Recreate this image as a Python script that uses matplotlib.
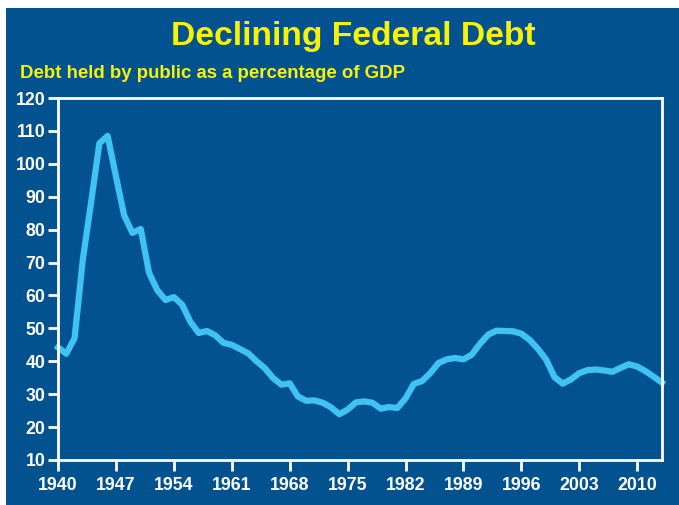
import numpy as np
import matplotlib.pyplot as plt
from matplotlib.patches import Rectangle

# Deuda en manos del público (% del PIB)
years = np.arange(1940, 2014)
debt = [44.2, 42.3, 47.0, 70.9, 88.3, 106.2, 108.5, 96.2, 84.3, 79.0,
        80.2, 66.9, 61.6, 58.6, 59.5, 57.2, 52.0, 48.6, 49.2, 47.9,
        45.6, 45.0, 43.7, 42.4, 40.0, 37.9, 34.9, 32.9, 33.3, 29.3,
        28.0, 28.1, 27.4, 26.0, 23.9, 25.3, 27.5, 27.8, 27.4, 25.6,
        26.1, 25.8, 28.7, 33.1, 34.0, 36.4, 39.5, 40.6, 41.0, 40.6,
        42.0, 45.3, 48.1, 49.3, 49.2, 49.1, 48.4, 46.5, 43.8, 40.5,
        35.2, 33.2, 34.5, 36.4, 37.3, 37.5, 37.2, 36.8, 38.0, 39.1,
        38.4, 37.0, 35.3, 33.5]
xticks = list(range(1940, 2011, 7))
yticks = list(range(10, 121, 10))

title = "Declining Federal Debt"
subtitle = "Debt held by public as a percentage of GDP"

bg = "#02528f"
yellow = "#f7f20a"
linecol = "#3fc3f0"

plt.rcParams['font.family'] = ['Liberation Sans', 'DejaVu Sans']

fig = plt.figure(figsize=(6.79, 5.05), dpi=100)
fig.patch.set_facecolor("white")
fig.patches.append(Rectangle((6 / 679, 0), 1, 1 - 8 / 505, transform=fig.transFigure,
                             facecolor=bg, edgecolor="none", zorder=-10))

ax = fig.add_axes([58 / 679, 1 - 460 / 505, 604 / 679, 362 / 505])
ax.set_facecolor(bg)
ax.plot(years, debt, color=linecol, lw=4.5, solid_joinstyle="round", clip_on=False)

ax.set_xlim(1940, 2013)
ax.set_ylim(10, 120)
ax.set_xticks(xticks)
ax.set_yticks(yticks)

for s in ax.spines.values():
    s.set_color("white")
    s.set_linewidth(2)
ax.tick_params(axis="x", colors="white", direction="out", length=8, width=2, pad=4,
               labelsize=12.8)
ax.tick_params(axis="y", colors="white", direction="out", length=7, width=2, pad=2,
               labelsize=12.8)
for lab in ax.get_xticklabels() + ax.get_yticklabels():
    lab.set_fontweight("bold")

fig.text(0.52, 1 - 37 / 505, title, color=yellow, fontsize=24.2, fontweight="bold",
         ha="center", va="center")
fig.text(20 / 679, 1 - 73 / 505, subtitle, color=yellow, fontsize=13.4, fontweight="bold",
         ha="left", va="center")

fig.savefig("out.png", dpi=100, facecolor=fig.get_facecolor())
